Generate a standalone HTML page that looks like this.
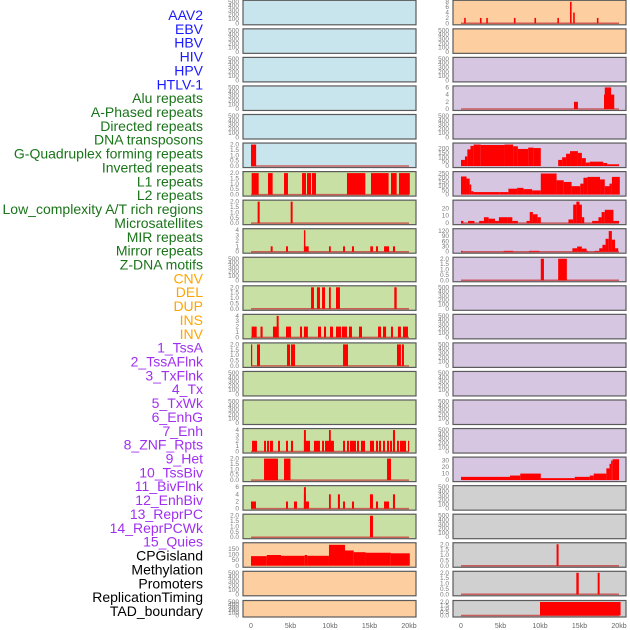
<!DOCTYPE html>
<html><head><meta charset="utf-8"><style>
html,body{margin:0;padding:0;background:#fff;width:630px;height:630px;overflow:hidden}
svg{display:block}
</style></head><body>
<svg id="chart" width="630" height="630" xmlns="http://www.w3.org/2000/svg"></svg>
<script>
const labelNames = ["AAV2","EBV","HBV","HIV","HPV","HTLV-1","Alu repeats","A-Phased repeats","Directed repeats","DNA transposons","G-Quadruplex forming repeats","Inverted repeats","L1 repeats","L2 repeats","Low_complexity A/T rich regions","Microsatellites","MIR repeats","Mirror repeats","Z-DNA motifs","CNV","DEL","DUP","INS","INV","1_TssA","2_TssAFlnk","3_TxFlnk","4_Tx","5_TxWk","6_EnhG","7_Enh","8_ZNF_Rpts","9_Het","10_TssBiv","11_BivFlnk","12_EnhBiv","13_ReprPC","14_ReprPCWk","15_Quies","CPGisland","Methylation","Promoters","ReplicationTiming","TAD_boundary"];
const labelGroups = ["v","v","v","v","v","v","r","r","r","r","r","r","r","r","r","r","r","r","r","s","s","s","s","s","c","c","c","c","c","c","c","c","c","c","c","c","c","c","c","o","o","o","o","o"];
const xTickVals = [0,5000,10000,15000,20000];
const xTickLabels = ["0","5kb","10kb","15kb","20kb"];
const ticks500 = [0,100,200,300,400,500];
const ticks2 = ["0.0","0.5","1.0","1.5","2.0"];

// bars: [startKb, endKb, value]
const gquadL = [[0,0.65,2]];
const l1L = [[0.08,0.97,2],[2.15,2.74,2],[4.18,4.68,2],[6.46,6.96,2],[7.09,7.6,2],[7.72,8.23,2],[12.15,14.47,2],[15.19,17.42,2],[17.72,18.44,2],[18.73,20.1,2]];
const lowcL = [[0.84,1.1,2],[5.02,5.27,2]];
const mirL = [[2.49,2.74,1],[4.43,4.68,1],[6.7,7.3,1],[6.7,6.88,4],[9.87,10.1,1],[11.65,11.9,1],[12.78,13.04,1],[15.1,15.44,1],[15.82,16.08,1],[16.84,17.47,1],[17.97,18.23,1]];
const delL = [[7.6,7.97,2],[8.35,8.73,2],[8.99,9.37,2],[9.87,10.1,2],[10.76,11.26,2],[18.14,18.44,2]];
const insL = [[0.08,0.72,2],[1.2,1.47,2],[2.78,3.5,2],[3.25,3.5,4],[4.43,5.06,2],[6.2,6.46,2],[6.7,7.2,2],[8.48,8.86,2],[9.24,9.5,2],[10.0,10.38,2],[10.76,11.39,2],[11.5,12.15,2],[12.4,12.78,2],[13.67,14.05,2],[16.08,16.46,2],[16.71,17.1,2],[17.72,17.97,2],[18.6,18.98,2],[19.24,19.87,2]];
const tssaL = [[0,0.15,2],[0.76,1.14,2],[4.56,4.94,2],[5.06,5.57,2],[11.65,12.28,2],[18.48,18.98,2],[19.1,19.36,2]];
const enhL = [[0.13,0.76,2],[1.65,1.9,2],[2.03,2.28,2],[2.4,2.78,2],[3.42,3.67,2],[4.43,4.68,2],[5.06,5.32,2],[6.7,7.47,2],[6.7,6.95,4],[7.97,8.73,2],[8.99,9.24,2],[9.37,10.5,2],[9.87,10.1,4],[11.65,11.9,2],[12.15,12.4,2],[12.53,13.29,2],[13.42,13.67,2],[13.92,14.43,2],[15.06,15.57,2],[15.82,16.08,2],[16.2,16.46,2],[16.71,16.96,2],[17.22,17.47,2],[17.6,17.85,2],[17.97,18.23,4],[18.48,18.73,2],[18.86,19.62,2],[19.87,20.0,2]];
const hetL = [[1.65,3.42,2],[4.18,5.0,2],[17.22,17.72,2]];
const bivL = [[0,0.63,2],[4.43,4.68,2],[5.44,5.82,2],[6.7,6.95,6],[6.7,7.34,2],[6.7,6.95,4],[9.87,10.1,4],[11.0,11.26,4],[11.65,11.9,2],[12.78,13.04,2],[15.06,15.44,4],[15.82,16.08,2],[16.84,17.47,2],[17.97,18.23,4]];
const reprL = [[15.06,15.44,2]];
const cpgL = [[0,2,85],[2,3.8,95],[3.8,6.8,88],[6.8,7.1,95],[7.1,9.87,88],[9.87,11.9,185],[11.9,13.0,135],[13.0,14.5,120],[14.5,17.7,115],[17.7,20.1,110]];

const aav2R = [[0.4,0.6,2],[2.4,2.6,2],[3.2,3.4,2],[6.7,6.9,2],[9.3,9.5,2],[12.2,12.4,2],[13.8,14.0,8],[14.2,14.4,4],[17.2,17.4,2]];
const aluR = [[14.3,14.8,2],[18.1,19.4,4],[18.2,19.0,6]];
const gquadR = [[0,0.5,70],[0.5,0.8,110],[0.8,1.2,190],[1.2,1.6,230],[1.6,2.5,245],[2.5,5.5,240],[5.5,6.6,245],[6.6,7.2,225],[7.2,8.5,195],[8.5,9.2,210],[9.2,10.1,205],[12.3,12.8,70],[12.8,13.3,100],[13.3,13.8,140],[13.8,14.8,170],[14.8,15.3,150],[15.3,15.8,90],[15.8,16.3,40],[16.3,18,50],[18,18.5,35],[18.5,20,20]];
const l1R = [[0,0.7,215],[0.7,1.1,190],[1.1,1.3,120],[1.3,1.6,40],[1.6,4.9,30],[4.9,6.0,30],[6.0,7.1,70],[7.1,7.9,80],[7.9,9.0,65],[9.0,10.1,50],[10.1,12.1,250],[12.1,13,170],[13,14,150],[14,15.1,100],[15.1,15.5,130],[15.5,16,200],[16,17.6,210],[17.6,18.2,180],[18.2,18.8,100],[18.8,19.1,130],[19.1,20.1,210]];
const lowcR = [[0,0.3,3],[0.9,1.7,3],[2.3,2.9,3],[2.9,3.5,8],[3.5,4.3,6],[4.3,4.8,3],[4.8,5.9,8],[5.9,6.5,8],[6.5,7.2,3],[8.3,8.7,3],[8.7,9.1,15],[9.1,9.7,12],[9.7,10.1,8],[13.6,14.2,5],[14.2,14.6,25],[14.6,15.0,29],[15.0,15.3,25],[15.3,15.6,8],[16.6,17.4,3],[17.4,17.8,8],[17.8,18.2,15],[18.2,19.3,18],[19.3,20,3]];
const microR = [[0,0.2,5],[5.4,6.6,5],[8.6,9.9,5],[14.1,14.7,20],[14.7,15.3,30],[15.3,15.9,18],[15.9,16.1,5],[16.9,17.5,5],[17.5,17.9,20],[17.9,18.3,40],[18.3,18.7,75],[18.7,19.1,120],[19.1,19.5,70],[19.5,19.9,20]];
const zdnaR = [[10.1,10.5,2],[12.3,13.4,2]];
const repR = [[0,6.2,5],[6.2,7.5,7],[7.5,10.1,10],[10.1,14.4,3],[14.4,16.3,5],[16.3,16.8,7],[16.8,18.4,10],[18.4,18.8,18],[18.8,19.0,25],[19.0,19.2,30],[19.2,20,32]];
const cpgR = [[12.1,12.35,2]];
const promR = [[14.6,14.9,2],[17.3,17.55,2]];
const tadR = [[10.0,20.2,2]];

// panels: column, row, background, ymax, tick values, tick labels, bars
const BG = {b:"#c8e4ec",g:"#c8e0a4",o:"#fdcfa0",p:"#d6c6e2",y:"#d0d0d0"};
const panels = [];
function P(col,row,bg,ymax,tv,tl,bars,base){panels.push({col,row,bg,ymax,tv,tl,bars,base});}
const E = (c,r,bg)=>P(c,r,bg,500,ticks500,ticks500.map(String),[],false);
const T2v=[0,0.5,1,1.5,2];
// left column
for(let r=0;r<5;r++) E(0,r,"b");
P(0,5,"b",2,T2v,ticks2,gquadL,true);
P(0,6,"g",2,T2v,ticks2,l1L,true);
P(0,7,"g",2,T2v,ticks2,lowcL,true);
P(0,8,"g",4,[0,1,2,3,4],["0","1","2","3","4"],mirL,true);
E(0,9,"g");
P(0,10,"g",2,T2v,ticks2,delL,true);
P(0,11,"g",4,[0,1,2,3,4],["0","1","2","3","4"],insL,true);
P(0,12,"g",2,T2v,ticks2,tssaL,true);
E(0,13,"g");E(0,14,"g");
P(0,15,"g",4,[0,1,2,3,4],["0","1","2","3","4"],enhL,true);
P(0,16,"g",2,T2v,ticks2,hetL,true);
P(0,17,"g",6,[0,2,4,6],["0","2","4","6"],bivL,true);
P(0,18,"g",2,T2v,ticks2,reprL,true);
P(0,19,"o",190,[0,50,100,150],["0","50","100","150"],cpgL,false);
E(0,20,"o");E(0,21,"o");
// right column
P(1,0,"o",8,[0,2,4,6,8],["0","2","4","6","8"],aav2R,true);
E(1,1,"o");E(1,2,"p");
P(1,3,"p",6,[0,2,4,6],["0","2","4","6"],aluR,true);
E(1,4,"p");
P(1,5,"p",245,[0,50,100,150,200],["0","50","100","150","200"],gquadR,false);
P(1,6,"p",255,[0,50,100,150,200,250],["0","50","100","150","200","250"],l1R,false);
P(1,7,"p",29,[0,10,20],["0","10","20"],lowcR,true);
P(1,8,"p",125,[0,30,60,90,120],["0","30","60","90","120"],microR,true);
P(1,9,"p",2,T2v,ticks2,zdnaR,true);
for(let r=10;r<16;r++) E(1,r,"p");
P(1,16,"p",33,[0,10,20,30],["0","10","20","30"],repR,false);
E(1,17,"y");E(1,18,"y");
P(1,19,"y",2,T2v,ticks2,cpgR,true);
P(1,20,"y",2,T2v,ticks2,promR,true);
P(1,21,"y",2,T2v,ticks2,tadR,true);

const NS="http://www.w3.org/2000/svg";
const svg=document.getElementById("chart");
function el(tag,attrs,parent){const e=document.createElementNS(NS,tag);for(const k in attrs)e.setAttribute(k,attrs[k]);(parent||svg).appendChild(e);return e;}

// labels
labelNames.forEach((name,i)=>{
  const col={v:"#1a1aff",r:"#1a741a",s:"#ffa500",c:"#a030f0",o:"#000"}[labelGroups[i]];
  const t=el("text",{x:203,y:20+i*13.86,"text-anchor":"end","font-family":"Liberation Sans, sans-serif","font-size":"14",fill:col});
  t.textContent=name;
  
  
});

const colX=[243,453], zeroX=[251,461], pxPerKb=7.9, panelW=173;
function xScale(col,kb){return zeroX[col]+kb*pxPerKb;}
function rowTop(r){return r===21?600.5:0.3+28.55*r;}
function rowH(r){return r===21?16.5:24.5;}

panels.forEach(p=>{
  const top=rowTop(p.row),h=rowH(p.row),x0=colX[p.col];
  const bottom=top+h;
  const yS=v=>bottom-1.5-v/p.ymax*(h-3);
  const g=el("g",{});
  
  
  const r=el("rect",{x:x0,y:top,width:panelW,height:h,fill:BG[p.bg],stroke:"#5a5a5a","stroke-width":1.2},g);
  
  
  p.tv.forEach((v,i)=>{
    const t=el("text",{x:x0-4,y:yS(v)+2,"text-anchor":"end","font-family":"Liberation Sans, sans-serif","font-size":"6.5",fill:"#7a7a7a"},g);
    t.textContent=p.tl[i];
    
    
  });
  if(p.base){
    const b=el("line",{x1:xScale(p.col,0),x2:xScale(p.col,20),y1:yS(0),y2:yS(0),stroke:"#c84040","stroke-width":1.5,opacity:0.8},g);
    
    
  }
  p.bars.forEach(d=>{
    const xa=xScale(p.col,d[0]),xb=xScale(p.col,d[1]);
    const bar=el("rect",{x:xa,y:yS(d[2]),width:Math.max(1.2,xb-xa),height:Math.max(0,yS(0)-yS(d[2])),fill:"#ff0000"},g);
    
    
  });
});

[0,1].forEach(c=>{
  xTickVals.forEach((v,i)=>{
    const t=el("text",{x:xScale(c,v/1000),y:628,"text-anchor":"middle","font-family":"Liberation Sans, sans-serif","font-size":"7",fill:"#666"});
    t.textContent=xTickLabels[i];
    
    
  });
});
</script>
</body></html>
